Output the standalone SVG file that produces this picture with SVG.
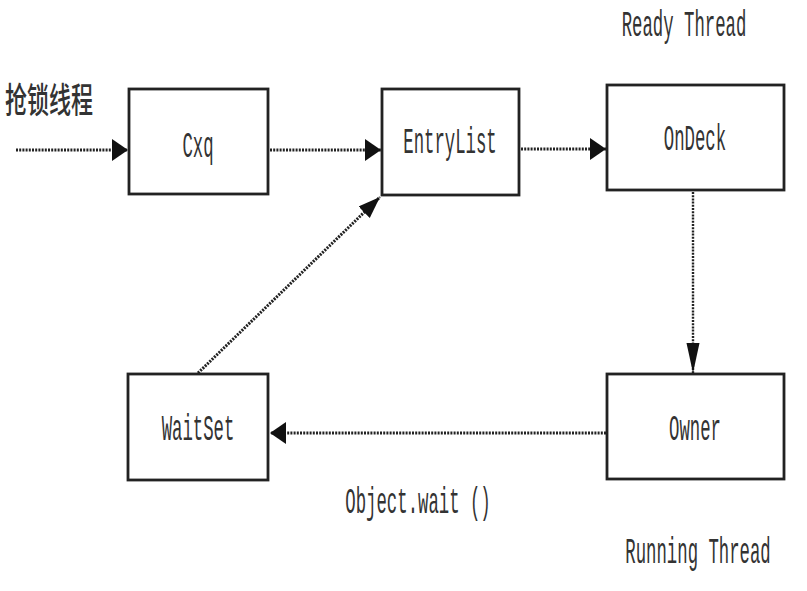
<svg xmlns="http://www.w3.org/2000/svg" width="807" height="591" viewBox="0 0 807 591">
<style>
.box{fill:#fff;stroke:#222;stroke-width:2.8}
.lbl{font-family:"Liberation Mono","DejaVu Sans Mono",monospace;font-size:17.3px;fill:#333;text-anchor:middle}
.cjk{font-family:"Noto Sans CJK SC",sans-serif;font-size:22px;font-weight:500;fill:#333}
.conn{fill:none;stroke:#222;stroke-width:3;stroke-dasharray:2 1.2}
</style>
<defs>
<marker id="ah" markerUnits="userSpaceOnUse" markerWidth="18" markerHeight="24" refX="16" refY="11" orient="auto" viewBox="0 0 18 24">
<path d="M0,0 L16,11 L0,22 z" fill="#111"/>
</marker>
<marker id="av" markerUnits="userSpaceOnUse" markerWidth="30" markerHeight="14" refX="30" refY="6.5" orient="auto" viewBox="0 0 30 14">
<path d="M0,0 L30,6.5 L0,13 z" fill="#111"/>
</marker>
<marker id="ad" markerUnits="userSpaceOnUse" markerWidth="24" markerHeight="18" refX="22" refY="8" orient="auto" viewBox="0 0 24 18">
<path d="M0,0 L22,8 L0,16 z" fill="#111"/>
</marker>
</defs>
<rect width="807" height="591" fill="#fff"/>
<g id="connectors">
<line class="conn" x1="16" y1="150" x2="128" y2="150" marker-end="url(#ah)"/>
<line class="conn" x1="270" y1="150" x2="381" y2="150" marker-end="url(#ah)"/>
<line class="conn" x1="521" y1="149" x2="606" y2="149" marker-end="url(#ah)"/>
<line class="conn" style="stroke-width:2.4" x1="693" y1="192" x2="693" y2="373" marker-end="url(#av)"/>
<line class="conn" x1="606" y1="433" x2="270" y2="433" marker-end="url(#ah)"/>
<line class="conn" x1="198" y1="373" x2="380" y2="197" marker-end="url(#ad)"/>
</g>
<g id="label-grab">
<text class="cjk" transform="translate(5,113) scale(1,1.6)">抢锁线程</text>
</g>
<g id="node-cxq">
<rect class="box" x="129" y="89" width="139" height="105"/>
<text class="lbl" transform="translate(198,157) scale(1,2.1)">Cxq</text>
</g>
<g id="node-entrylist">
<rect class="box" x="382" y="89" width="137" height="106"/>
<text class="lbl" transform="translate(450,153) scale(1,2.1)">EntryList</text>
</g>
<g id="node-ondeck">
<rect class="box" x="607" y="85" width="177" height="105"/>
<text class="lbl" transform="translate(695,150) scale(1,2.1)">OnDeck</text>
</g>
<g id="node-owner">
<rect class="box" x="607" y="374" width="177" height="105"/>
<text class="lbl" transform="translate(695,440) scale(1,2.1)">Owner</text>
</g>
<g id="node-waitset">
<rect class="box" x="128" y="374" width="140" height="106"/>
<text class="lbl" transform="translate(198,440) scale(1,2.1)">WaitSet</text>
</g>
<g id="label-ready">
<text class="lbl" transform="translate(684,36) scale(1,2.1)">Ready Thread</text>
</g>
<g id="label-running">
<text class="lbl" transform="translate(698,563) scale(1,2.1)">Running Thread</text>
</g>
<g id="label-wait">
<text class="lbl" transform="translate(418,513) scale(1,2.1)">Object.wait ()</text>
</g>
</svg>
